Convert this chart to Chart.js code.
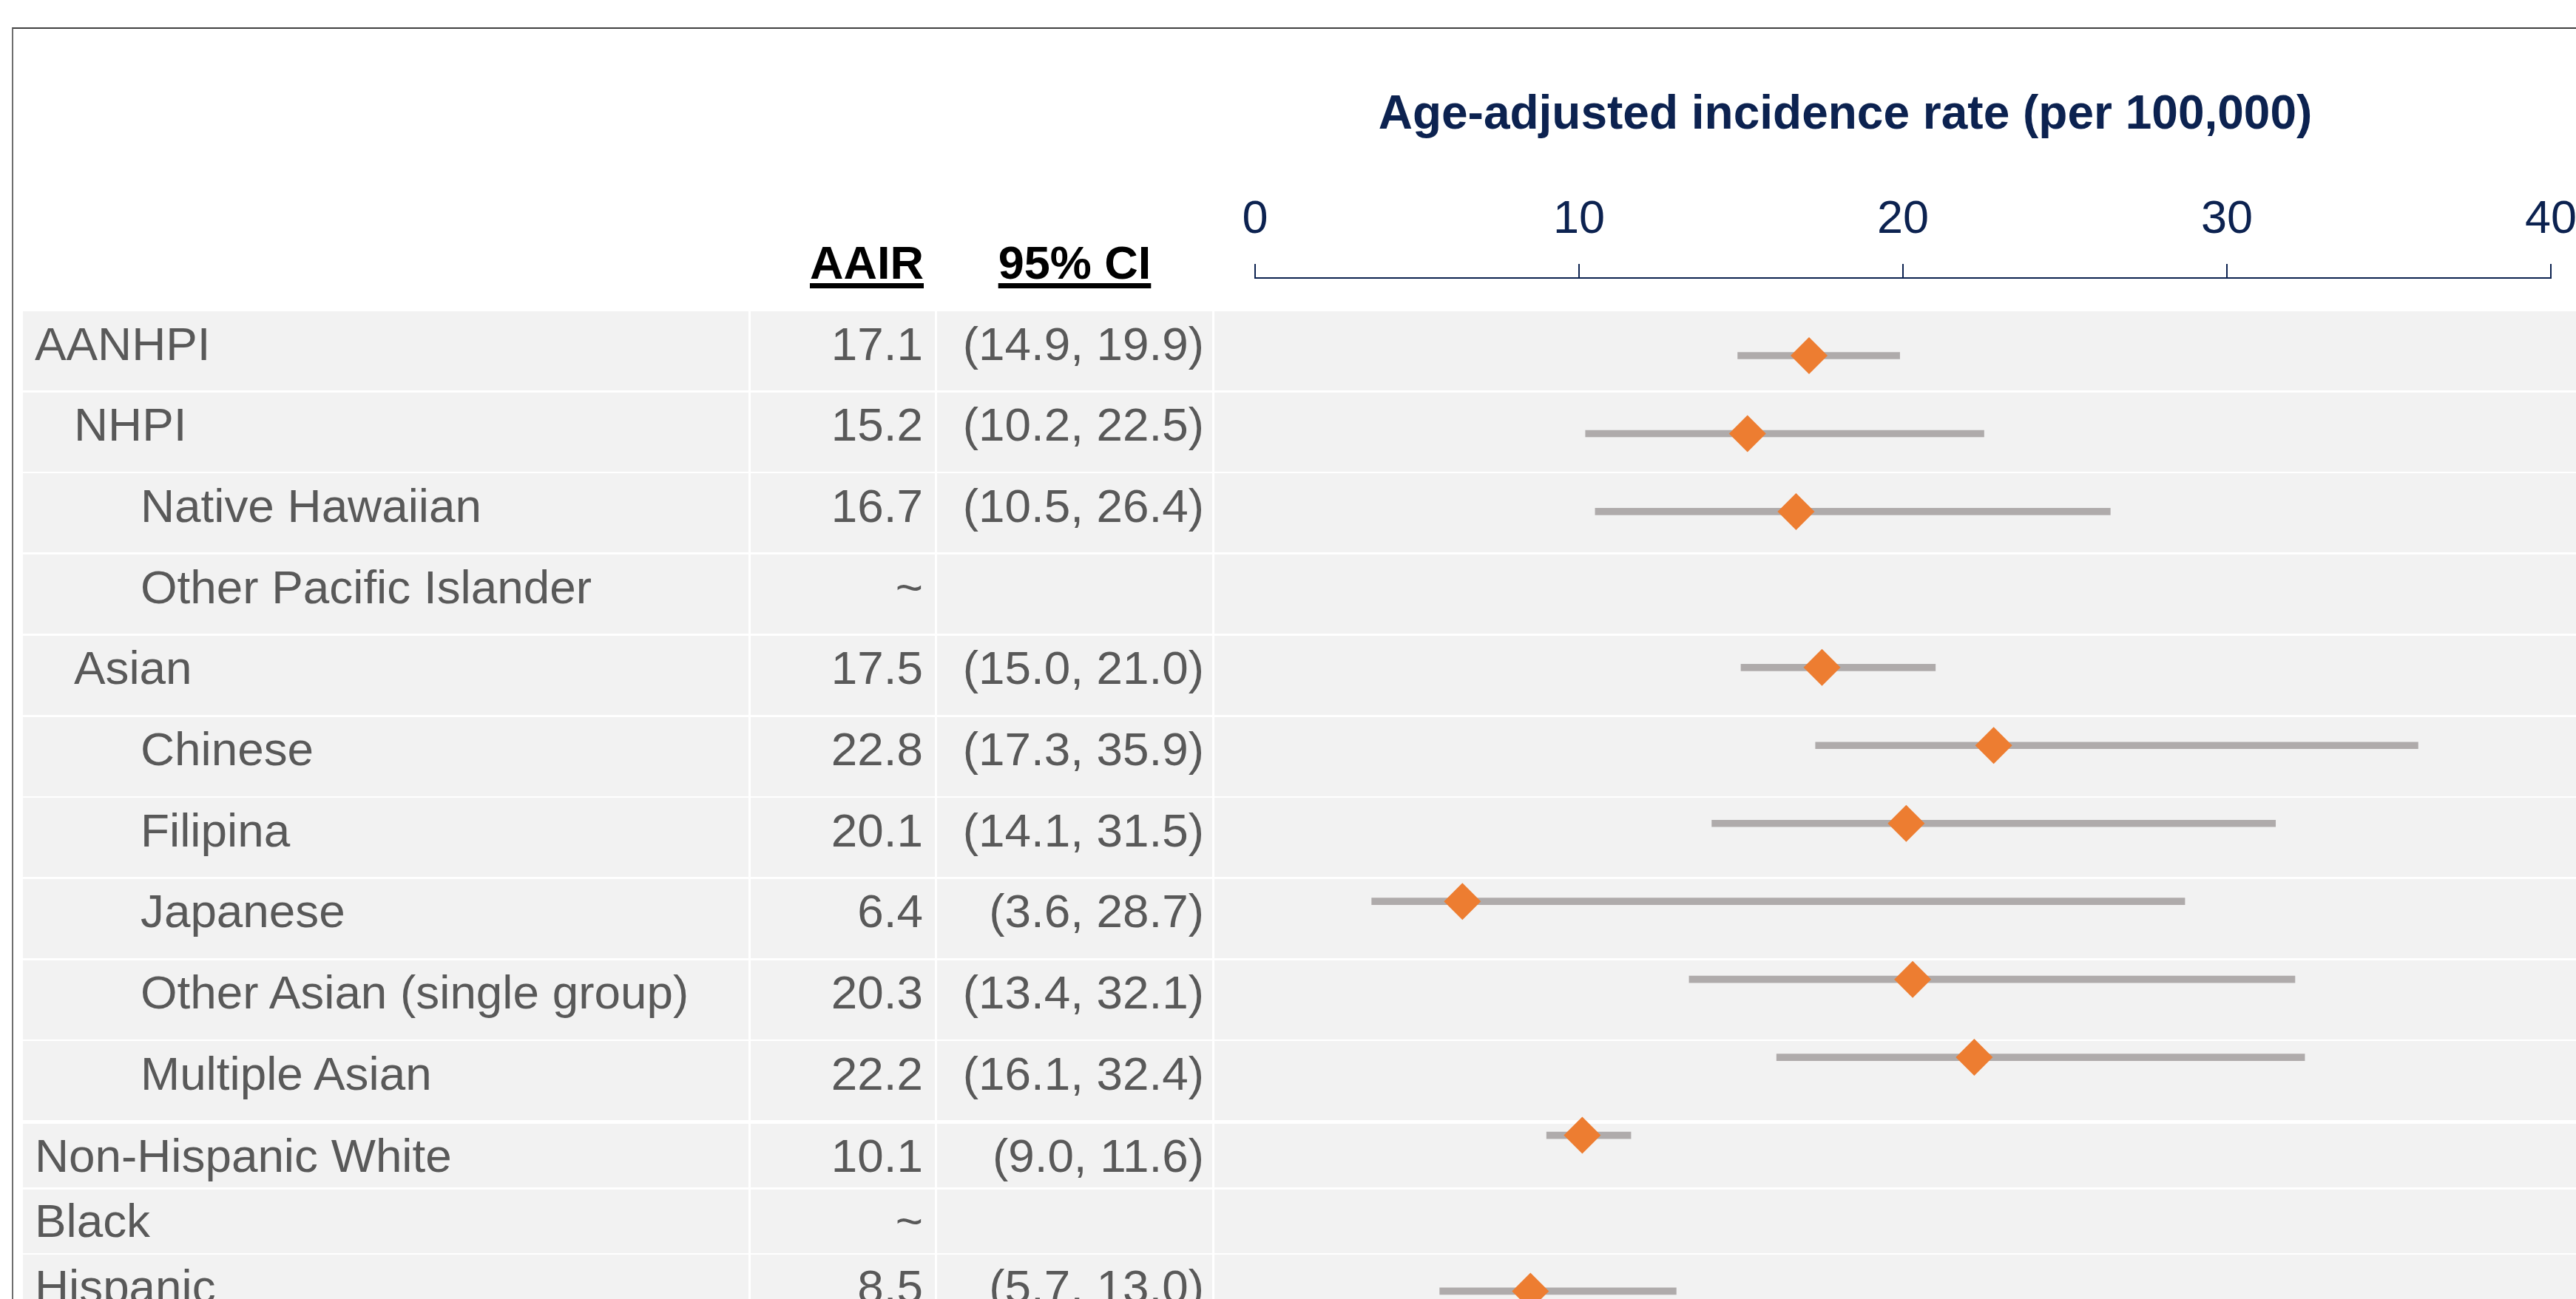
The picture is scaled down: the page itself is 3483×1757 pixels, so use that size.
<!DOCTYPE html>
<html>
<head>
<meta charset="utf-8">
<title>Age-adjusted incidence rate</title>
<script src="https://cdn.jsdelivr.net/npm/chart.js@4.4.1/dist/chart.umd.min.js"></script>
<style>
    html, body { margin: 0; padding: 0; background: #fff; }
    body {
        width: 3483px; height: 1757px; overflow: hidden; position: relative;
        font-family: "Liberation Sans", Arial, sans-serif;
    }
    .frame {
        position: absolute; left: 16px; top: 37px; width: 3600px; height: 1900px;
        border-top: 2px solid #404040; border-left: 2px solid #6e6e6e;
    }
    .cell { position: absolute; background: #f2f2f2; }
    .txt {
        position: absolute; font-size: 63.8px; line-height: 63px;
        color: #595959; white-space: nowrap;
    }
    .head {
        position: absolute; top: 324px; font-size: 63px; line-height: 63px;
        font-weight: bold; color: #000; white-space: nowrap;
        text-decoration: underline; text-decoration-thickness: 7px; text-underline-offset: 6px;
    }
    #axisTitle {
        position: absolute; left: 1495px; width: 2000px; top: 120px; text-align: center;
        font-size: 64px; line-height: 65px; font-weight: bold; color: #0c2250; white-space: nowrap;
    }
    #chart { position: absolute; left: 1640px; top: 0; }
</style>
</head>
<body>
<div class="frame"></div>
<div id="rows"></div>
<div class="head" style="right: 2234px;">AAIR</div>
<div class="head" style="left: 1265px; width: 376px; text-align: center;">95% CI</div>
<div id="axisTitle">Age-adjusted incidence rate (per 100,000)</div>
<canvas id="chart" width="1900" height="1757"></canvas>

<script>
// Data
const groups = ['AANHPI', 'NHPI', 'Native Hawaiian', 'Other Pacific Islander', 'Asian', 'Chinese',
    'Filipina', 'Japanese', 'Other Asian (single group)', 'Multiple Asian',
    'Non-Hispanic White', 'Black', 'Hispanic'];
const level = [0, 1, 2, 2, 1, 2, 2, 2, 2, 2, 0, 0, 0];
const aair = [17.1, 15.2, 16.7, null, 17.5, 22.8, 20.1, 6.4, 20.3, 22.2, 10.1, null, 8.5];
const ciLow = [14.9, 10.2, 10.5, null, 15.0, 17.3, 14.1, 3.6, 13.4, 16.1, 9.0, null, 5.7];
const ciHigh = [19.9, 22.5, 26.4, null, 21.0, 35.9, 31.5, 28.7, 32.1, 32.4, 11.6, null, 13.0];
const xTicks = [0, 10, 20, 30, 40];

const navy = '#0c2250';
Chart.defaults.font.family = '"Liberation Sans", Arial, sans-serif';

// Table rows (the last three rows are shorter)
function rowTop(i) {
    return i < 10 ? 421 + i * 109.7 : 1520 + (i - 10) * 88.5;
}
function rowHeight(i) {
    return i < 10 ? 107 : 86;
}

function fmt(v) {
    return v.toFixed(1);
}

function buildTable() {
    const host = document.getElementById('rows');
    const indent = [47, 100, 190];
    const cols = [[31, 1012], [1015, 1264], [1267, 1639], [1642, 3483]];

    groups.forEach((name, i) => {
        const top = rowTop(i);
        const h = rowHeight(i);
        const textTop = top + (i < 10 ? 12.5 : 11.5);

        cols.forEach(c => {
            const cell = document.createElement('div');
            cell.className = 'cell';
            cell.style.left = c[0] + 'px';
            cell.style.width = (c[1] - c[0]) + 'px';
            cell.style.top = top + 'px';
            cell.style.height = h + 'px';
            host.appendChild(cell);
        });

        const label = document.createElement('div');
        label.className = 'txt';
        label.style.left = indent[level[i]] + 'px';
        label.style.top = textTop + 'px';
        label.textContent = name;
        host.appendChild(label);

        const val = document.createElement('div');
        val.className = 'txt';
        val.style.right = (3483 - 1248) + 'px';
        val.style.top = textTop + 'px';
        val.textContent = aair[i] === null ? '~' : fmt(aair[i]);
        host.appendChild(val);

        if (ciLow[i] !== null) {
            const ci = document.createElement('div');
            ci.className = 'txt';
            ci.style.right = (3483 - 1628) + 'px';
            ci.style.top = textTop + 'px';
            ci.textContent = '(' + fmt(ciLow[i]) + ', ' + fmt(ciHigh[i]) + ')';
            host.appendChild(ci);
        }
    });
}

buildTable();

// Chart: diamonds for the rate, floating bars for the 95% CI
const points = [];
const ranges = [];
groups.forEach((g, i) => {
    if (aair[i] !== null) {
        points.push({ x: aair[i], y: i });
        ranges.push({ x: [ciLow[i], ciHigh[i]], y: i });
    }
});

new Chart(document.getElementById('chart'), {
    type: 'bar',
    data: {
        datasets: [
            {
                type: 'scatter',
                label: 'AAIR',
                data: points,
                pointStyle: 'rectRot',
                pointRadius: 25,
                pointHoverRadius: 25,
                backgroundColor: '#ed7d31',
                borderWidth: 0,
                clip: false,
                order: 0
            },
            {
                type: 'bar',
                label: '95% CI',
                data: ranges,
                backgroundColor: '#afabab',
                barThickness: 9,
                order: 1
            }
        ]
    },
    options: {
        indexAxis: 'y',
        responsive: false,
        animation: false,
        devicePixelRatio: 1,
        layout: { autoPadding: false, padding: { left: 57, right: 91, top: 0, bottom: 0 } },
        plugins: {
            legend: { display: false },
            tooltip: { enabled: false }
        },
        scales: {
            x: {
                type: 'linear',
                position: 'top',
                min: xTicks[0],
                max: xTicks[xTicks.length - 1],
                afterBuildTicks: s => { s.ticks = xTicks.map(v => ({ value: v })); },
                afterFit: s => { s.height = 376; },
                ticks: { font: { size: 63 }, color: navy, padding: 22 },
                grid: { drawOnChartArea: false, drawTicks: true, tickLength: 19, color: navy, lineWidth: 2 },
                border: { color: navy, width: 2 }
            },
            y: {
                type: 'linear',
                reverse: true,
                offset: false,
                bounds: 'data',
                grid: { offset: false },
                min: -0.996,
                max: 12.1,
                display: false
            }
        }
    }
});
</script>
</body>
</html>
